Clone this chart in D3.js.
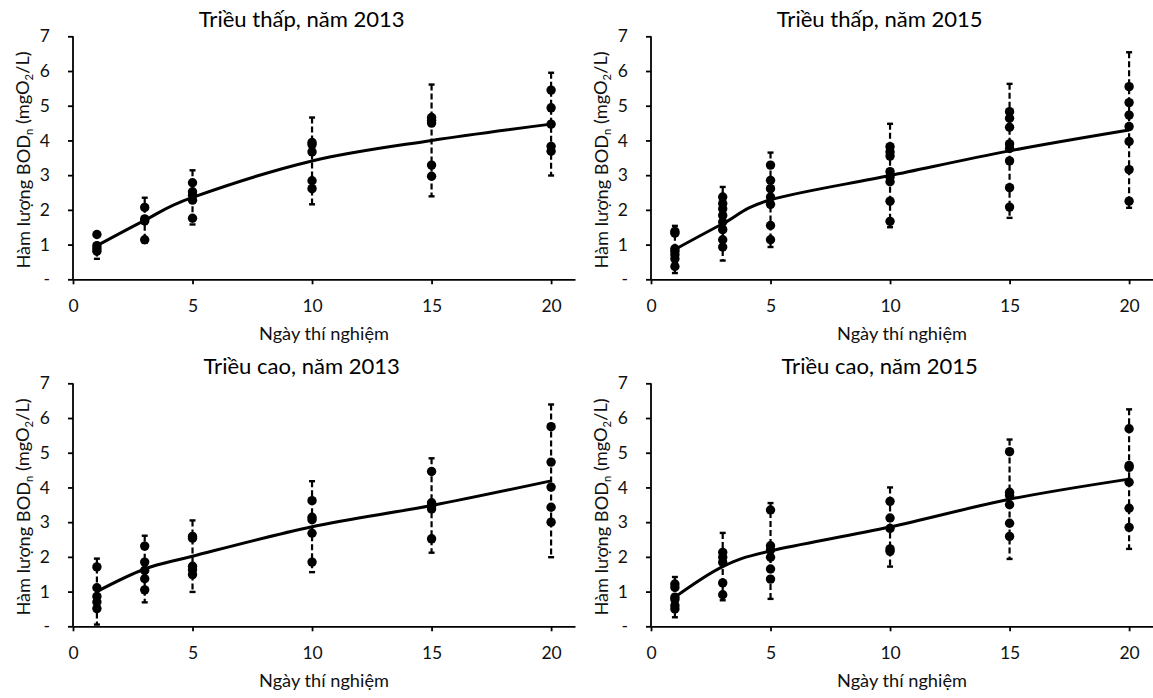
<!DOCTYPE html>
<html>
<head>
<meta charset="utf-8">
<script src="https://cdn.jsdelivr.net/npm/d3@7"></script>
<style>
  html, body { margin: 0; padding: 0; background: #fff; }
  svg { display: block; font-family: Lato, "Open Sans", sans-serif; }
</style>
</head>
<body>
<div id="chart"></div>
<script>
// Four panels of BOD vs. incubation day
const days = [1, 3, 5, 10, 15, 20];
const xTicks = [0, 5, 10, 15, 20];
const yTicks = [0, 1, 2, 3, 4, 5, 6, 7];
const panelTitles = ["Triều thấp, năm 2013", "Triều thấp, năm 2015", "Triều cao, năm 2013", "Triều cao, năm 2015"];
const xTitle = "Ngày thí nghiệm";

// Triều thấp 2013
const low2013Mean = [0.97, 1.70, 2.36, 3.41, 4.00, 4.47];
const low2013Sd = [0.38, 0.65, 0.78, 1.25, 1.61, 1.48];
const low2013Obs = [
  [1.29, 0.97, 0.89, 0.81],
  [2.07, 1.74, 1.68, 1.14],
  [2.78, 2.52, 2.42, 2.28, 1.76],
  [3.94, 3.88, 3.67, 2.84, 2.61],
  [4.66, 4.58, 4.50, 3.29, 2.97],
  [5.45, 4.94, 4.47, 3.83, 3.69]
];

// Triều thấp 2015
const low2015Mean = [0.86, 1.60, 2.29, 2.99, 3.70, 4.30];
const low2015Sd = [0.68, 1.06, 1.36, 1.49, 1.93, 2.24];
const low2015Obs = [
  [1.38, 1.33, 0.88, 0.81, 0.71, 0.59, 0.37],
  [2.37, 2.18, 2.03, 1.84, 1.65, 1.43, 1.14, 0.93],
  [3.29, 2.85, 2.61, 2.37, 2.16, 1.55, 1.14],
  [3.82, 3.67, 3.55, 3.10, 2.95, 2.81, 2.25, 1.67],
  [4.83, 4.64, 4.38, 3.90, 3.77, 3.41, 2.64, 2.08],
  [5.55, 5.09, 4.73, 4.40, 3.97, 3.16, 2.25]
];

// Triều cao 2013
const high2013Mean = [1.00, 1.65, 2.02, 2.87, 3.48, 4.19];
const high2013Sd = [0.95, 0.96, 1.03, 1.31, 1.36, 2.20];
const high2013Obs = [
  [1.71, 1.11, 0.86, 0.70, 0.51],
  [2.31, 1.85, 1.61, 1.37, 1.05],
  [2.59, 2.54, 1.73, 1.63, 1.49],
  [3.62, 3.14, 3.07, 2.68, 1.85],
  [4.46, 3.56, 3.46, 3.38, 2.52],
  [5.75, 4.73, 4.01, 3.43, 3.00]
];

// Triều cao 2015
const high2015Mean = [0.84, 1.72, 2.17, 2.86, 3.66, 4.24];
const high2015Sd = [0.58, 0.97, 1.38, 1.14, 1.72, 2.01];
const high2015Obs = [
  [1.22, 1.12, 0.84, 0.77, 0.60, 0.50],
  [2.13, 1.99, 1.84, 1.25, 0.91],
  [3.35, 2.32, 2.20, 1.99, 1.65, 1.36],
  [3.60, 3.12, 2.82, 2.23, 2.16],
  [5.03, 3.86, 3.77, 3.50, 2.97, 2.59],
  [5.69, 4.63, 4.58, 4.15, 3.40, 2.85]
];

const W = 1153, H = 698;
const svg = d3.select("#chart").append("svg")
  .attr("width", W)
  .attr("height", H)
  .attr("viewBox", [0, 0, W, H]);

const panels = [
  { ox: 0,   oy: 0,   mean: low2013Mean,  sd: low2013Sd,  obs: low2013Obs },
  { ox: 578, oy: 0,   mean: low2015Mean,  sd: low2015Sd,  obs: low2015Obs },
  { ox: 0,   oy: 347, mean: high2013Mean, sd: high2013Sd, obs: high2013Obs },
  { ox: 578, oy: 347, mean: high2015Mean, sd: high2015Sd, obs: high2015Obs }
];

const tickFs = 17.5;

// font size at which a string gets the width it has in the original
function sizeFor(str, base, target) {
  const m = svg.append("text").attr("font-size", base).attr("opacity", 0).text(str);
  const w = m.node().getComputedTextLength();
  m.remove();
  return w > 0 ? base * target / w : base;
}
const titleFs = sizeFor(panelTitles[0], 21, 206);
const axisTitleFs = sizeFor(xTitle, 18, 130);

function drawPanel(p, i) {
  const g = svg.append("g").attr("transform", `translate(${p.ox},${p.oy})`);
  const x = d3.scaleLinear().domain([0, 21]).range([73, 575]);
  const y = d3.scaleLinear().domain([0, 7]).range([279.3, 36.3]);

  // title
  g.append("text")
    .attr("x", 301.7).attr("y", 26.7)
    .attr("text-anchor", "middle")
    .attr("font-size", titleFs)
    .attr("fill", "#000")
    .text(panelTitles[i]);

  // axes
  const yAxis = d3.axisLeft(y).tickValues(yTicks).tickSize(5).tickPadding(18)
    .tickFormat(d => d === 0 ? "-" : d);
  const xAxis = d3.axisBottom(x).tickValues(xTicks).tickSize(5).tickSizeOuter(0);

  const ga = g.append("g").attr("transform", `translate(${x(0)},0)`).call(yAxis);
  const gx = g.append("g").attr("transform", `translate(0,${y(0)})`).call(xAxis);
  ga.select(".domain").attr("d", `M0,${y(7)}V${y(0)}`);
  [ga, gx].forEach(a => {
    a.select(".domain").attr("stroke", "#000").attr("stroke-width", 1.8);
    a.selectAll(".tick line").attr("stroke", "#000").attr("stroke-width", 1.8);
    a.selectAll(".tick text").attr("font-size", tickFs).attr("fill", "#111")
      .attr("font-family", "Lato, 'Open Sans', sans-serif");
  });
  gx.selectAll(".tick text").attr("y", 32.4).attr("dy", 0);

  // axis titles
  g.append("text")
    .attr("x", 324).attr("y", y(0) + 60.5)
    .attr("text-anchor", "middle")
    .attr("font-size", axisTitleFs)
    .attr("fill", "#111")
    .text(xTitle);

  const yt = g.append("text")
    .attr("transform", `translate(29.5,${(y(0) + y(7)) / 2 + 2.2}) rotate(-90)`)
    .attr("text-anchor", "middle")
    .attr("font-size", axisTitleFs)
    .attr("fill", "#111");
  yt.append("tspan").text("Hàm lượng BOD");
  yt.append("tspan").attr("font-size", "0.62em").attr("dy", "0.35em").text("n");
  yt.append("tspan").attr("dy", "-0.22em").text(" (mgO");
  yt.append("tspan").attr("font-size", "0.62em").attr("dy", "0.35em").text("2");
  yt.append("tspan").attr("dy", "-0.22em").text("/L)");

  // error bars
  const eb = g.append("g");
  days.forEach((d, k) => {
    const lo = p.mean[k] - p.sd[k], hi = p.mean[k] + p.sd[k];
    eb.append("line")
      .attr("x1", x(d)).attr("x2", x(d))
      .attr("y1", y(hi)).attr("y2", y(lo))
      .attr("stroke", "#000").attr("stroke-width", 2.2)
      .attr("stroke-dasharray", "6,3");
    [lo, hi].forEach(v => {
      eb.append("line")
        .attr("x1", x(d) - 3).attr("x2", x(d) + 3)
        .attr("y1", y(v)).attr("y2", y(v))
        .attr("stroke", "#000").attr("stroke-width", 2.4);
    });
  });

  // mean curve
  const line = d3.line()
    .x((d, k) => x(days[k]))
    .y(d => y(d))
    .curve(d3.curveCardinal.tension(0));
  g.append("path")
    .datum(p.mean)
    .attr("d", line)
    .attr("fill", "none")
    .attr("stroke", "#000")
    .attr("stroke-width", 3);

  // observations
  const pts = [];
  p.obs.forEach((vals, k) => vals.forEach(v => pts.push([days[k], v])));
  g.append("g").selectAll("circle")
    .data(pts)
    .join("circle")
      .attr("cx", d => x(d[0]))
      .attr("cy", d => y(d[1]))
      .attr("r", 4.7)
      .attr("fill", "#000");
}

panels.forEach(drawPanel);
</script>
</body>
</html>
